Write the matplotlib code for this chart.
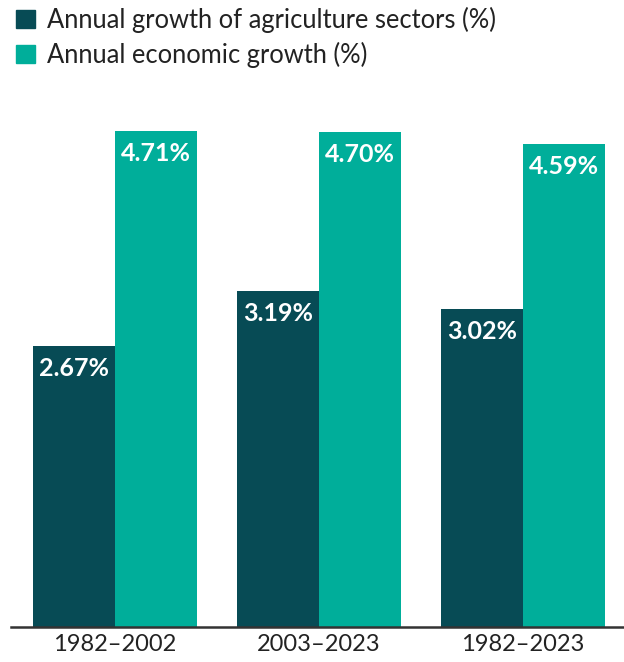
import matplotlib

matplotlib.use("Agg")
import matplotlib.pyplot as plt
import numpy as np
from matplotlib.patches import Patch

plt.rcParams["font.family"] = ["Lato", "DejaVu Sans"]

periods = ["1982\u20132002", "2003\u20132023", "1982\u20132023"]
agri_growth = [2.67, 3.19, 3.02]
econ_growth = [4.71, 4.70, 4.59]
series_names = ["Annual growth of agriculture sectors (%)", "Annual economic growth (%)"]

DARK = "#074b55"
TEAL = "#00ae9a"

fig = plt.figure(figsize=(6.24, 6.62), dpi=100)
ax = fig.add_axes([0.0176, 0.0529, 0.9824, 0.795])

x = np.arange(len(periods))
w = 0.402
b1 = ax.bar(x - w / 2, agri_growth, width=w, color=DARK)
b2 = ax.bar(x + w / 2, econ_growth, width=w, color=TEAL)

for bars, vals in ((b1, agri_growth), (b2, econ_growth)):
    for r, v in zip(bars, vals):
        ax.annotate(f"{v:.2f}%", (r.get_x() + r.get_width() / 2, v),
                    xytext=(0, -8), textcoords="offset points",
                    ha="center", va="top", color="white", fontsize=18, fontweight="bold")

ax.set_xlim(-0.51, 2.495)
ax.set_ylim(0, 5.0)
ax.set_xticks(x)
ax.set_xticklabels(periods, fontsize=17, color="#222222")
ax.tick_params(axis="x", length=0, pad=5)
ax.set_yticks([])
for s in ("top", "right", "left"):
    ax.spines[s].set_visible(False)
ax.spines["bottom"].set_color("#333333")
ax.spines["bottom"].set_linewidth(1.8)

handles = [Patch(color=DARK), Patch(color=TEAL)]
fig.legend(handles, series_names, loc="upper left", bbox_to_anchor=(-0.011, 1.024),
           frameon=False, fontsize=18.4, labelcolor="#222222",
           handlelength=0.72, handleheight=0.72, handletextpad=0.5, labelspacing=0.35)

fig.savefig("out.png", dpi=100)
